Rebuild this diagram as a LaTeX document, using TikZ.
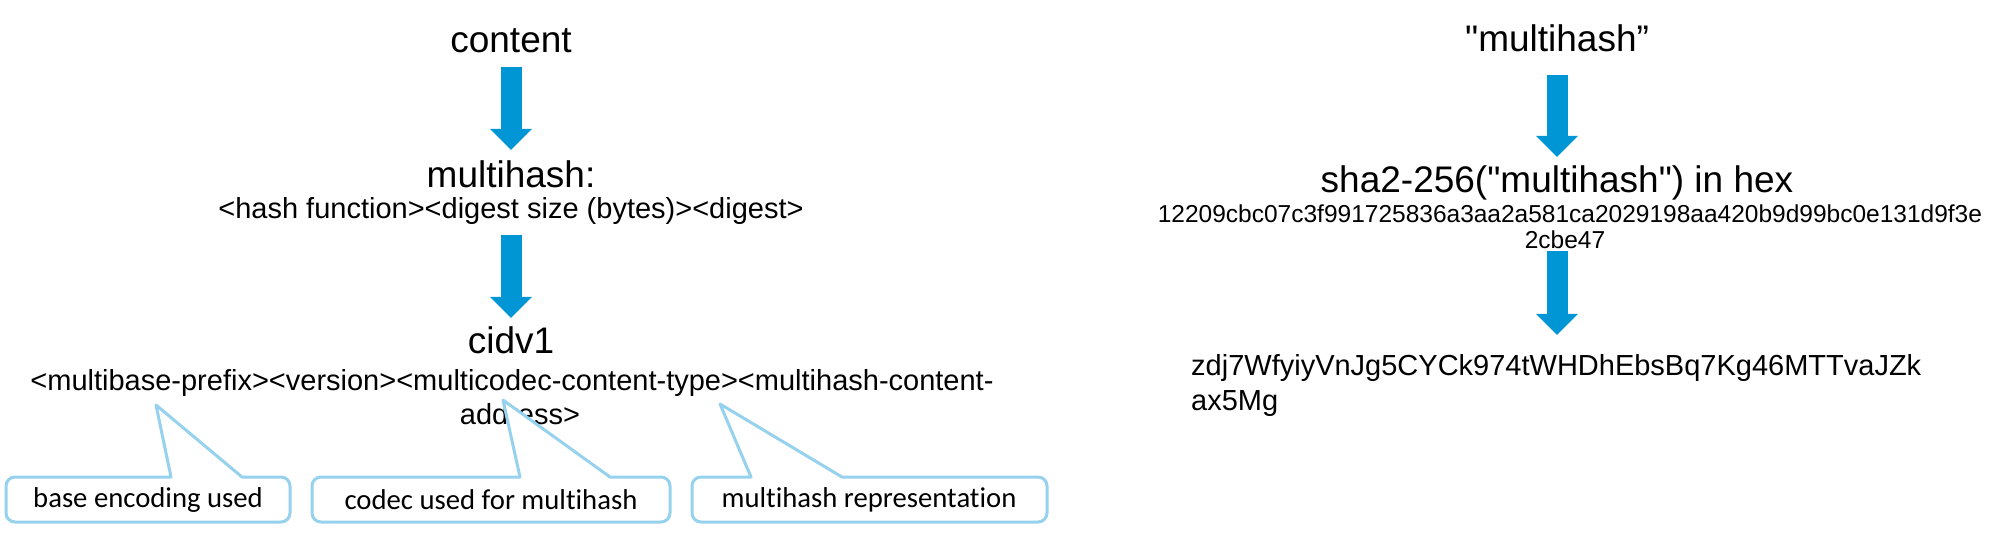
\documentclass[tikz,border=0pt]{standalone}
\usepackage{fontspec}
\newfontfamily\arialfont{Liberation Sans}
\newfontfamily\calibrifont{Carlito}[Ligatures=CommonOff]
\usetikzlibrary{arrows.meta}
\definecolor{arrowblue}{RGB}{0,150,214}
\definecolor{calloutblue}{RGB}{150,210,237}
\begin{document}
\begin{tikzpicture}[x=1pt,y=-1pt,
  title/.style={font=\arialfont\fontsize{37}{44}\selectfont, inner sep=0pt, anchor=base, text height=28pt, text depth=8pt},
  sub/.style={font=\arialfont\fontsize{29}{35}\selectfont, inner sep=0pt, anchor=base, text height=21pt, text depth=7pt},
  hexline/.style={font=\arialfont\fontsize{24.5}{26}\selectfont, inner sep=0pt, anchor=base, text height=18pt, text depth=2pt},
  bigarrow/.style={draw=arrowblue, line width=21pt, -{Triangle[width=42pt,length=21pt,line width=0pt]}},
  callout/.style={draw=calloutblue, line width=3pt, fill=white, line join=round},
  calltext/.style={font=\calibrifont\fontsize{28.7}{34}\selectfont, inner sep=0pt}
]
\useasboundingbox (0,0) rectangle (2002,533);

% ---------- left column ----------
\node[title] (content) at (511,52) {content};
\node[title] (mh) at (511,187) {multihash:};
\node[sub] (mhsub) at (511,218) {<hash function><digest size (bytes)><digest>};
\node[title] (cid) at (511,353) {cidv1};
\node[sub] (cidsub) at (512,390) {<multibase-prefix><version><multicodec-content-type><multihash-content-};
\node[sub] (cidsub2) at (520,424) {address>};

\draw[bigarrow, shorten <=7pt, shorten >=9pt] (content.south) -- (mh.north);
\draw[bigarrow, shorten <=10pt, shorten >=7pt] (mhsub.south) -- (cid.north);

% ---------- right column ----------
\node[title] (quote) at (1557,51) {"multihash”};
\node[title] (sha) at (1557,192) {sha2-256("multihash") in hex};
\node[hexline] (hex) at (1570,222) {12209cbc07c3f991725836a3aa2a581ca2029198aa420b9d99bc0e131d9f3e};
\node[hexline] (hex2) at (1565,248) {2cbe47};
\node[sub, anchor=base west] (zdj) at (1191,375) {zdj7WfyiyVnJg5CYCk974tWHDhEbsBq7Kg46MTTvaJZk};
\node[sub, anchor=base west] (zdj2) at (1191,410) {ax5Mg};

\draw[bigarrow, shorten <=16pt, shorten >=7pt] (quote.south) -- (sha.north);
\draw[bigarrow, shorten <=1pt, shorten >=19pt] (hex2.south -| sha.south) -- (zdj.north -| sha.south);

% ---------- callouts ----------
\coordinate (tip1) at (156,405);
\coordinate (tip2) at (503,400);
\coordinate (tip3) at (720,404);

\draw[callout] (tip1) -- (242,477) -- (252,477) [rounded corners=9pt] -- (290,477) -- (290,522) -- (6,522) -- (6,477) -- (26,477) [sharp corners] -- (171,477) -- cycle;
\draw[callout] (tip2) -- (610,477) -- (620,477) [rounded corners=9pt] -- (670,477) -- (670,522) -- (312,522) -- (312,477) -- (332,477) [sharp corners] -- (520,477) -- cycle;
\draw[callout] (tip3) -- (842,477) -- (852,477) [rounded corners=9pt] -- (1047,477) -- (1047,522) -- (692,522) -- (692,477) -- (712,477) [sharp corners] -- (751,477) -- cycle;

\node[calltext] (c1) at (148,500) {base encoding used};
\node[calltext] (c2) at (491,500) {codec used for multihash};
\node[calltext] (c3) at (869,500) {multihash representation};
\end{tikzpicture}
\end{document}
